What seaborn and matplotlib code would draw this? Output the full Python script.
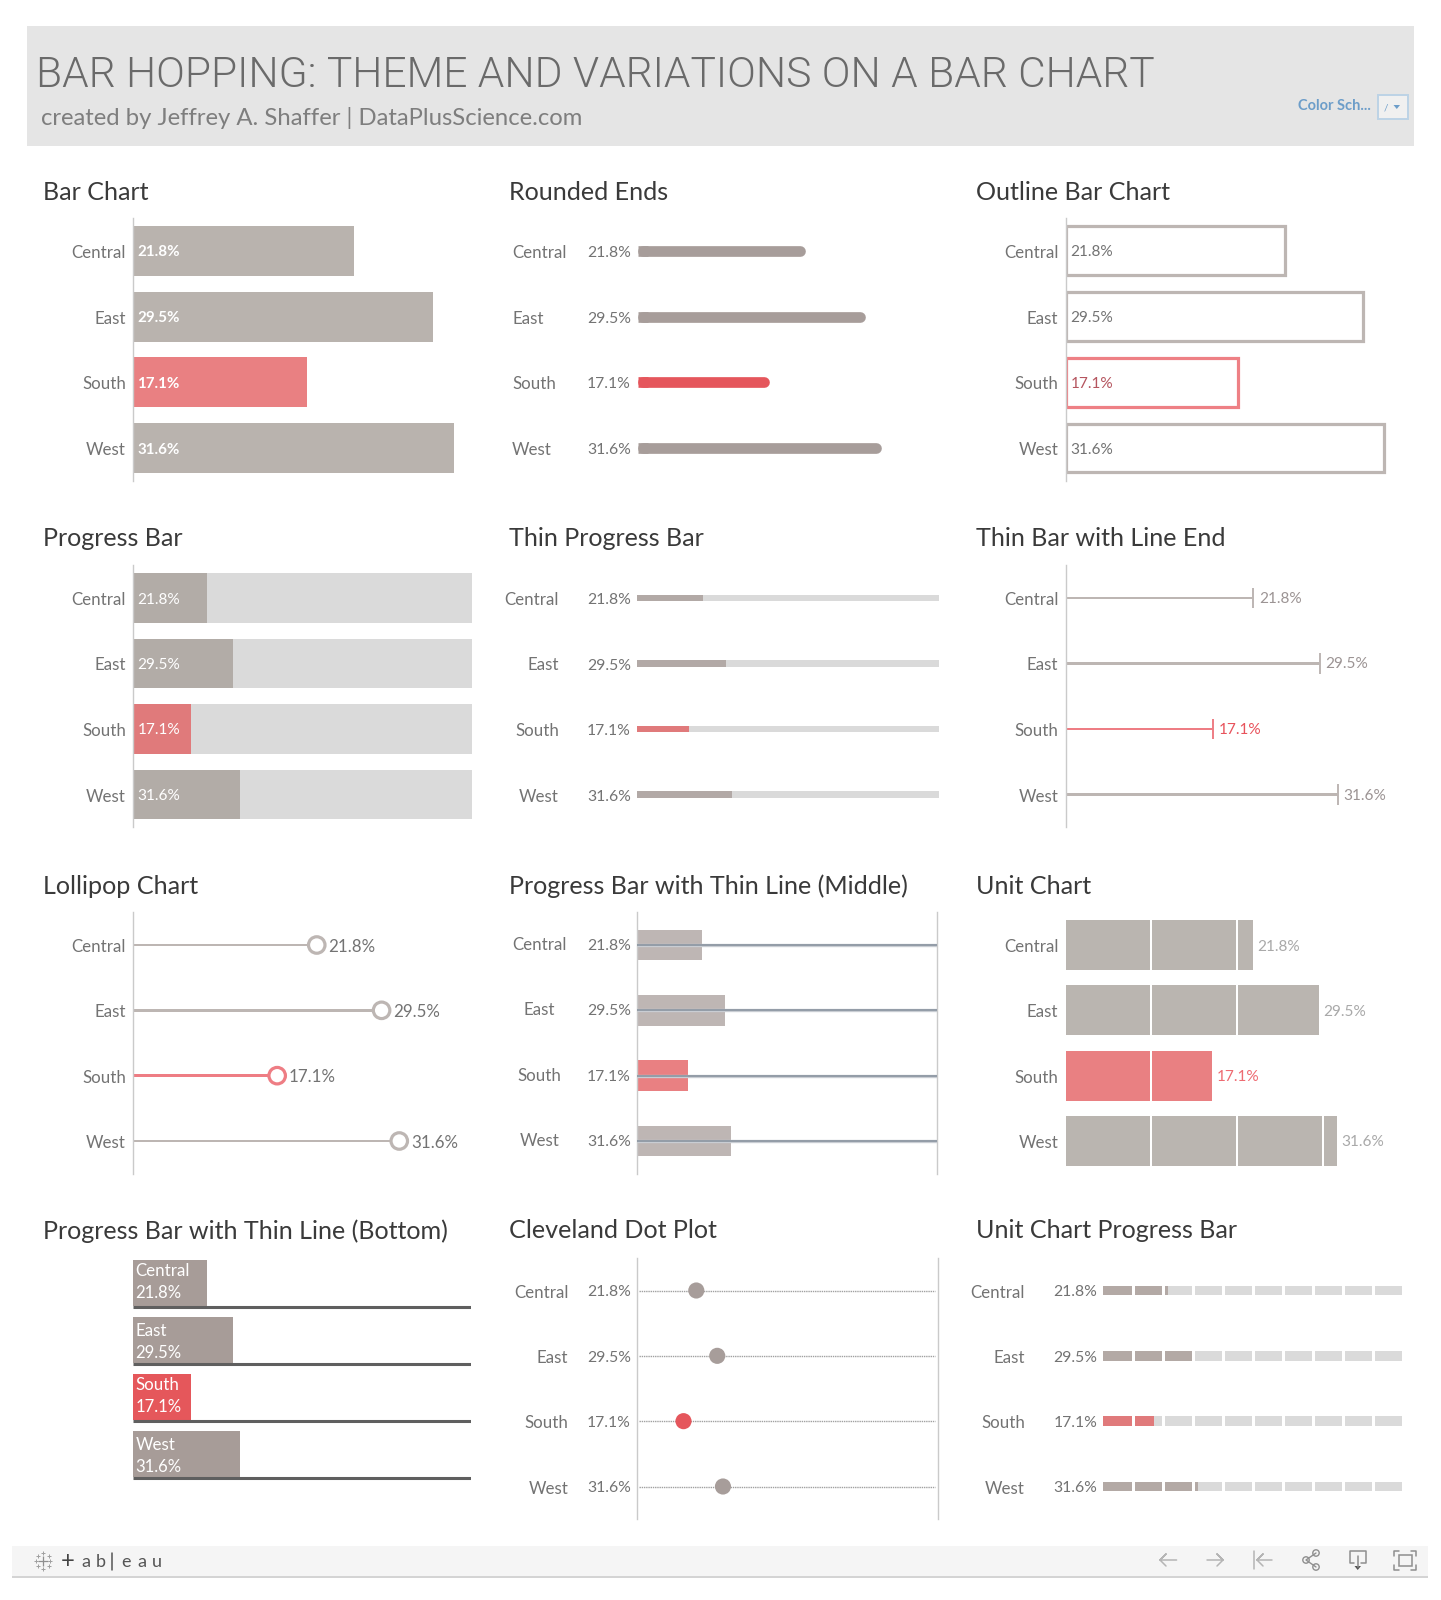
import numpy as np
import matplotlib
matplotlib.use("Agg")
import matplotlib.pyplot as plt
from matplotlib.patches import Rectangle, Polygon, Circle
import seaborn as sns

W, H = 1441, 1600
regions = ["Central", "East", "South", "West"]
shares = np.array([21.8, 29.5, 17.1, 31.6])
track_values = np.array([100.0, 100.0, 100.0, 100.0])
highlight = "South"
chart_titles = [
    ["Bar Chart", "Rounded Ends", "Outline Bar Chart"],
    ["Progress Bar", "Thin Progress Bar", "Thin Bar with Line End"],
    ["Lollipop Chart", "Progress Bar with Thin Line (Middle)", "Unit Chart"],
    ["Progress Bar with Thin Line (Bottom)", "Cleveland Dot Plot", "Unit Chart Progress Bar"],
]
main_title = "BAR HOPPING: THEME AND VARIATIONS ON A BAR CHART"
sub_title = "created by Jeffrey A. Shaffer | DataPlusScience.com"

sns.set_theme(style="white")
FONT = ["Lato", "DejaVu Sans"]
plt.rcParams["font.family"] = FONT
LBL = 12.2
PCT = 11.3
TXT = "#737373"
AXC = "#cacaca"
TRACK = "#dadada"
rows = np.arange(4)

fig = plt.figure(figsize=(W / 100, H / 100), dpi=100, facecolor="white")
bg = fig.add_axes([0, 0, 1, 1], zorder=0)
bg.set_xlim(0, W)
bg.set_ylim(H, 0)
bg.axis("off")


def pal(grey, red):
    return {r: (red if r == highlight else grey) for r in regions}


def panel(x0, scale, width, c0, c3, left=True, right=False):
    p = (c3 - c0) / 3
    top, bot = c0 - p / 2, c3 + p / 2
    ax = fig.add_axes([x0 / W, 1 - bot / H, width / W, (bot - top) / H], zorder=2)
    ax.patch.set_alpha(0)
    ax.set_xlim(0, width / scale)
    ax.set_ylim(3.5, -0.5)
    ax._x0 = x0
    ax._flags = (left, right)
    return ax


def finish(ax):
    ax.set_xlim(ax.get_xlim())
    ax.set_ylim(3.5, -0.5)
    ax.set_xticks([])
    ax.set_yticks([])
    ax.set_xlabel("")
    ax.set_ylabel("")
    left, right = ax._flags
    sns.despine(ax=ax, top=True, bottom=True, left=not left, right=not right)
    for s in ("left", "right"):
        ax.spines[s].set_color(AXC)
        ax.spines[s].set_linewidth(1.0)


def bars(ax, values, colors, width, **kw):
    sns.barplot(x=values, y=regions, hue=regions, palette=colors, legend=False,
                width=width, saturation=1, ax=ax, orient="y", linewidth=kw.pop("linewidth", 0), **kw)


def txt(ax, xval, row, s, dx=0.0, dy=0.0, ha="left", color=TXT, size=LBL, **kw):
    ax.annotate(s, (xval, row), xytext=(dx * 0.72, -(dy + 1.5) * 0.72), textcoords="offset points",
                ha=ha, va="center", color=color, fontsize=size, annotation_clip=False, **kw)


def region_labels(ax, xpx, ha="right", dy=0.5):
    for i, r in enumerate(regions):
        txt(ax, 0, i, r, dx=xpx - ax._x0, dy=dy, ha=ha)


def pct_labels_left(ax, xpx=630.9, dy=0.5, color=TXT):
    for i, v in enumerate(shares):
        txt(ax, 0, i, f"{v:.1f}%", dx=xpx - ax._x0, dy=dy, ha="right", color=color, size=PCT)


C1, C2, C3 = 133.2, 637.4, 1066.0
R1 = (250.9, 448.0)
R2 = (598.0, 794.5)
R3 = (945.0, 1141.0)
R4 = (1290.5, 1486.5)

# ---- 1 Bar chart
ax = panel(C1, 10.15, 340, *R1)
bars(ax, shares, pal("#b9b3ae", "#e98082"), 0.76)
region_labels(ax, 126)
for i, v in enumerate(shares):
    txt(ax, 0, i, f"{v:.1f}%", dx=4.2, color="white", fontweight="bold", size=PCT - 0.4)
finish(ax)

# ---- 2 Rounded ends
ax = panel(C2, 7.72, 300, *R1, left=False)
thick = 10.7 * 0.72
r = 5.3 / 7.72
for i, (v, c) in enumerate(zip(shares, pal("#a79d9a", "#e5565c").values())):
    ax.hlines(i, r, v - r, color=c, lw=thick, capstyle="round")
    ax.hlines(i, 0.1, r * 2, color=c, lw=thick, capstyle="butt")
region_labels(ax, 512, ha="left")
pct_labels_left(ax)
finish(ax)

# ---- 3 Outline bar chart
ax = panel(C3, 10.06, 340, *R1)
sns.barplot(x=shares, y=regions, hue=regions, palette=pal("#bdb6b3", "#ee8085"), legend=False,
            width=0.745, saturation=1, ax=ax, orient="y", fill=False, linewidth=2.3)
region_labels(ax, 1058.4)
for i, v in enumerate(shares):
    txt(ax, 0, i, f"{v:.1f}%", dx=4.6, color="#b5555f" if regions[i] == highlight else TXT, size=PCT - 0.2)
finish(ax)

# ---- 4 Progress bar
ax = panel(C1, 3.37, 338.5, *R2)
bars(ax, track_values * 1.01, pal(TRACK, TRACK), 0.755)
bars(ax, shares, pal("#b2aca7", "#e07a7b"), 0.755)
region_labels(ax, 126)
for i, v in enumerate(shares):
    txt(ax, 0, i, f"{v:.1f}%", dx=4.2, color="white", size=PCT - 0.2)
finish(ax)

# ---- 5 Thin progress bar
ax = panel(C2, 3.0, 302, *R2, left=False)
bars(ax, track_values * 1.005, pal(TRACK, TRACK), 0.105)
bars(ax, shares, pal("#b2a9a6", "#e07a7b"), 0.105)
region_labels(ax, 559)
pct_labels_left(ax)
finish(ax)

# ---- 6 Thin bar with line end
ax = panel(C3, 8.6, 340, *R2)
cols = pal("#bdb6b3", "#ee7d84")
bars(ax, shares, cols, 0.032)
ax.vlines(shares, rows - 0.16, rows + 0.16, color=list(cols.values()), lw=1.4)
region_labels(ax, 1058.4)
for i, v in enumerate(shares):
    c = "#e8535c" if regions[i] == highlight else "#9c9494"
    txt(ax, v, i, f"{v:.1f}%", dx=5.6, dy=-0.5, color=c, size=PCT - 0.2)
finish(ax)

# ---- 7 Lollipop
ax = panel(C1, 8.42, 340, *R3)
cols = pal("#bdb6b3", "#ee7d84")
bars(ax, shares, cols, 0.042)
sns.scatterplot(x=shares, y=rows, color="white", edgecolor=list(cols.values()), s=141,
                linewidth=2.3, ax=ax, zorder=5, legend=False, clip_on=False)
region_labels(ax, 126)
for i, v in enumerate(shares):
    txt(ax, v, i, f"{v:.1f}%", dx=11.5, size=LBL)
finish(ax)

# ---- 8 Progress with thin line (middle)
ax = panel(C2, 2.97, 300, *R3, right=True)
bars(ax, shares, pal("#beb6b4", "#e98082"), 0.47)
ax.hlines(rows, 0, 300 / 2.97, color="#c9cdd3", lw=2.4, zorder=4)
ax.hlines(rows, 0, 300 / 2.97, color="#8a94a0", lw=1.2, zorder=5)
region_labels(ax, 539.5, ha="center", dy=-1.5)
pct_labels_left(ax, dy=-0.5)
finish(ax)

# ---- 9 Unit chart
ax = panel(1065.7, 8.57, 340, *R3, left=False)
unit_cols = pal("#bab5b0", "#e98082")
for i in range(4):
    lo = 10 * i + (0.12 if i else 0)
    hi = 10 * (i + 1) - 0.12
    bars(ax, np.clip(shares, lo, hi) - lo, unit_cols, 0.765, left=lo)
region_labels(ax, 1058.4)
for i, v in enumerate(shares):
    c = "#ee6b72" if regions[i] == highlight else "#a9a9a9"
    txt(ax, v, i, f"{v:.1f}%", dx=5, color=c, size=PCT - 0.2)
finish(ax)

# ---- 10 Progress with thin line (bottom)
ax = panel(133.2, 3.37, 338, 1283.0, 1454.0, left=False)
bars(ax, shares, pal("#a79c98", "#e5575b"), 0.807)
ax.hlines(rows + 0.42, 0, 338 / 3.37, color="#5f5f5f", lw=2.2)
row_shift = [0, 3, 0, 3]
for i, v in enumerate(shares):
    txt(ax, 0, i, regions[i], dx=2.4, dy=-13.5 + row_shift[i], color="white", size=LBL)
    txt(ax, 0, i, f"{v:.1f}%", dx=2.4, dy=9 + row_shift[i], color="white", size=LBL - 0.2)
finish(ax)

# ---- 11 Cleveland dot plot
ax = panel(637.0, 2.72, 300.5, *R4, right=True)
ax.hlines(rows, 0.8, 109.5, color="#a0a0a0", lw=1.0, linestyles=(0, (1, 0.6)))
cols = pal("#a79d9a", "#e5565c")
sns.scatterplot(x=shares, y=rows, hue=regions, palette=cols, s=135, linewidth=0,
                ax=ax, zorder=5, legend=False)
region_labels(ax, 568.4)
pct_labels_left(ax)
finish(ax)

# ---- 12 Unit chart progress bar
ax = panel(1103, 3.0, 300, *R4, left=False)
fill_cols = pal("#b3a9a5", "#e07a7b")
for i in range(10):
    lo = 10 * i + (0.6 if i else 0)
    hi = 10 * i + 9.5
    bars(ax, np.full(4, hi - lo), pal(TRACK, TRACK), 0.145, left=lo)
    bars(ax, np.clip(shares, lo, hi) - lo, fill_cols, 0.145, left=lo)
region_labels(ax, 1024.8)
pct_labels_left(ax, xpx=1097.1)
finish(ax)

# ---- chrome and titles
bg.add_patch(Rectangle((26.6, 26), 1387.4, 119.7, color="#e5e5e5", lw=0))
bg.text(36.5, 75.5, main_title, color="#6a6a6a", fontsize=30.6, va="center", ha="left",
        family=["Roboto", "DejaVu Sans"], fontweight=300)
bg.text(41.0, 118, sub_title, color="#7e7e7e", fontsize=17.2, va="center", ha="left")
bg.text(1298.4, 106, "Color Sch...", color="#6c9dc9", fontsize=10.5, fontweight="bold", va="center")
bg.add_patch(Rectangle((1378, 95.3), 30, 23.4, fc="#f0f0f0", ec="#bcd3e6", lw=1.4))
bg.text(1383.5, 108, "/", color="#6c9dc9", fontsize=7, va="center")
bg.add_patch(Polygon([(1393.5, 105), (1400, 105), (1396.8, 109)], color="#6c9dc9", lw=0))

title_x = [43, 508.8, 975.5]
title_y = [192, 538.7, 886, 1231]
for ty, names in zip(title_y, chart_titles):
    for tx, name in zip(title_x, names):
        bg.text(tx, ty, name, color="#3a3a3a", fontsize=18.1, va="center", ha="left")

# footer
bg.add_patch(Rectangle((12, 1546), 1416, 30, color="#f5f5f5", lw=0))
bg.add_patch(Rectangle((12, 1576), 1416, 2, color="#d4d4d4", lw=0))
bg.plot([43], [1561], "+", color="#8f8f8f", ms=7, mew=0.9, ls="none")
logo_x = [43, 43, 36, 50, 37.5, 48.5, 37.5, 48.5]
logo_y = [1553, 1569, 1561, 1561, 1556, 1556, 1566, 1566]
bg.plot(logo_x, logo_y, "+", color="#a0a0a0", ms=3.5, mew=0.7, ls="none")
bg.text(61, 1561, "+", color="#444444", fontsize=17, va="center", ha="left")
for x, ch in zip([81.5, 96, 121, 137, 152], "abeau"):
    bg.text(x, 1562, ch, color="#555555", fontsize=13, va="center", ha="left")
bg.plot([112, 112], [1553, 1570], color="#555555", lw=1.1)

GI = "#b5b5b5"
DI = "#8f8f8f"
bg.plot([1176.6, 1160, 1166, 1160, 1166], [1560, 1560, 1554, 1560, 1566], color=GI, lw=1.1)
bg.plot([1207, 1223, 1217, 1223, 1217], [1560, 1560, 1554, 1560, 1566], color=GI, lw=1.1)
bg.plot([1254, 1254], [1551, 1569], color=GI, lw=1.1)
bg.plot([1272, 1257, 1263, 1257, 1263], [1560, 1560, 1554, 1560, 1566], color=GI, lw=1.1)
for cx, cy in [(1306, 1560), (1316, 1553), (1316, 1567)]:
    bg.add_patch(Circle((cx, cy), 3.2, fc="none", ec=DI, lw=1.0))
bg.plot([1316, 1306, 1316], [1553, 1560, 1567], color=DI, lw=1.0)
bg.plot([1354, 1349.5, 1349.5, 1366, 1366, 1361], [1563, 1563, 1551, 1551, 1563, 1563], color=DI, lw=1.1)
bg.plot([1357.7, 1357.7], [1556, 1567], color=DI, lw=1.1)
bg.add_patch(Polygon([(1354.5, 1566), (1361, 1566), (1357.7, 1570)], color="#555555", lw=0))
bg.add_patch(Rectangle((1398.5, 1555), 13, 11, fc="none", ec=DI, lw=1.1))
for xs, ys in [([1394, 1394, 1399], [1556, 1551, 1551]), ([1411, 1416, 1416], [1551, 1551, 1556]),
               ([1394, 1394, 1399], [1565, 1570, 1570]), ([1411, 1416, 1416], [1570, 1570, 1565])]:
    bg.plot(xs, ys, color=DI, lw=1.1)

fig.savefig("out.png", dpi=100, facecolor="white")
